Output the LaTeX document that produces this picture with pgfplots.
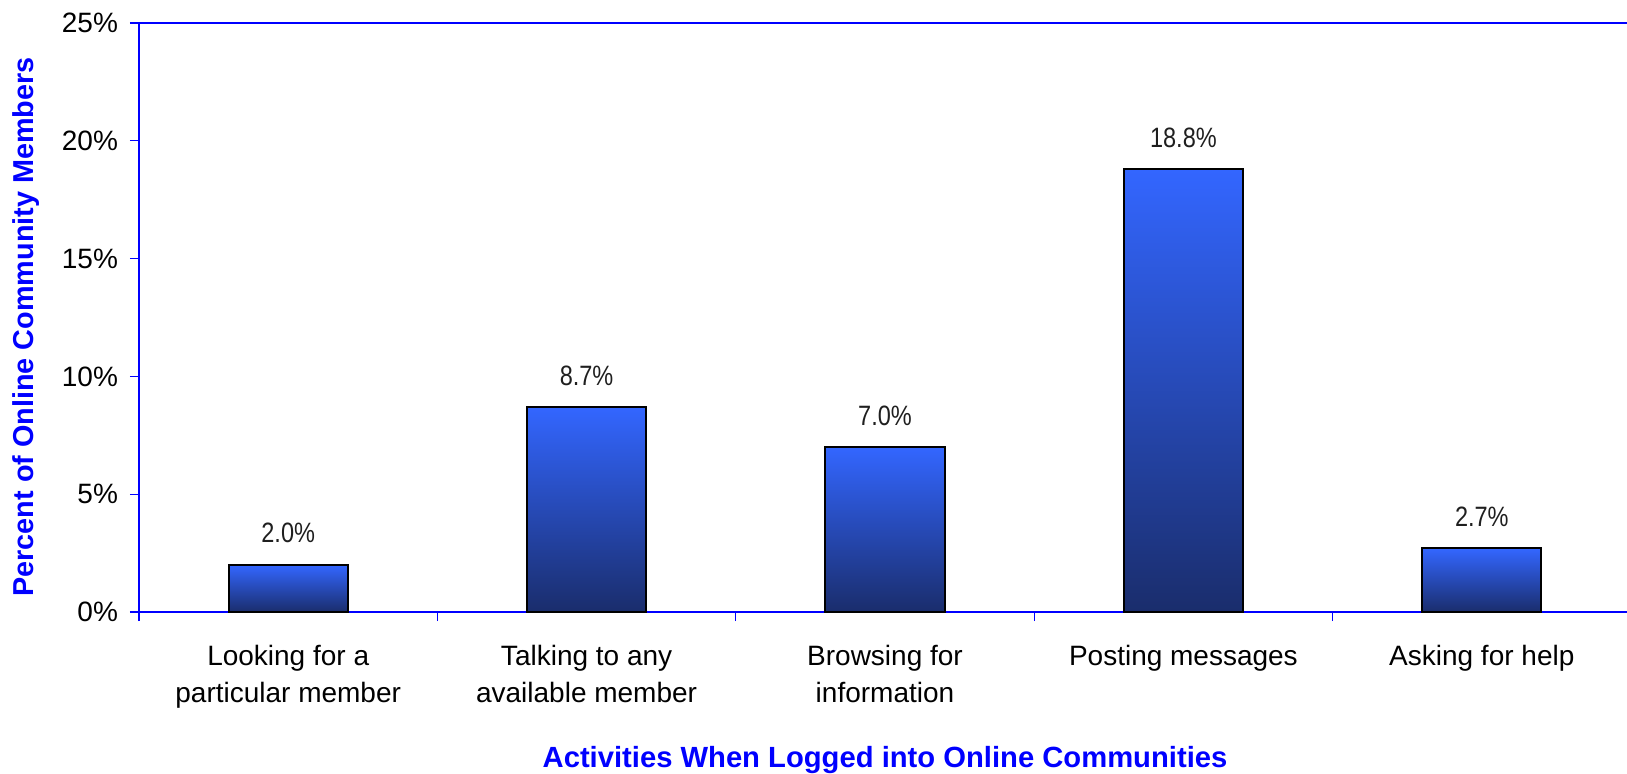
\documentclass[border=0pt]{standalone}
\usepackage{pgfplots}
\pgfplotsset{compat=1.18}
\usepackage{graphicx}
\usepackage{fontspec}
\setmainfont{Liberation Sans}

\definecolor{axisblue}{HTML}{0000FF}
\definecolor{bartop}{HTML}{3366FF}
\definecolor{barmid}{HTML}{2F5CE8}
\definecolor{barbot}{HTML}{1A2D6C}

% each bar is its own plot so that every bar gets its own gradient
\pgfplotsset{gradbar/.style={ybar, bar shift=0pt, bar width=0.4, draw=black, line width=1pt,
  top color=bartop, middle color=barmid, bottom color=barbot,
  nodes near coords={\scalebox{0.84}[1]{\pgfmathprintnumber[fixed,fixed zerofill,precision=1]{\pgfplotspointmeta}\%}},
  every node near coord/.append style={anchor=base, yshift=11pt,
    font=\fontsize{14}{17}\selectfont, text=black!88}}}

\begin{document}
\begin{tikzpicture}
% page size: 1px of the reference = 0.5pt
\path[use as bounding box] (-69.5pt,-80.5pt) rectangle (744pt,306pt);
\begin{axis}[
  at={(0,0)}, anchor=south west,
  scale only axis, width=746pt, height=294.5pt,
  /pgf/number format/assume math mode=true,
  xmin=-0.5, xmax=4.5,
  ymin=0, ymax=25,
  axis x line*=box, axis y line*=left,
  axis line style={axisblue, line width=1pt},
  tick align=outside,
  tick style={axisblue, line width=0.6pt},
  major tick length=4.5pt,
  minor tick length=4.5pt,
  ytick={0,5,10,15,20,25},
  yticklabel={\pgfmathprintnumber{\tick}\%},
  yticklabel style={font=\fontsize{14}{17}\selectfont, xshift=-2.5pt},
  xtick={0,1,2,3,4},
  xtick pos=left,
  major x tick style={draw=none},
  minor xtick={-0.5,0.5,1.5,2.5,3.5,4.5},
  xticklabels={{Looking for a\\particular member},{Talking to any\\available member},{Browsing for\\information},{Posting messages},{Asking for help}},
  xticklabel style={align=center, font=\fontsize{14}{18.5}\selectfont, yshift=-8.6pt},
  xlabel={Activities When Logged into Online Communities},
  xlabel style={at={(axis description cs:0.5,-0.251)}, anchor=center,
    font=\fontsize{14.6}{17}\selectfont\bfseries, text=axisblue},
  ylabel={Percent of Online Community Members},
  ylabel style={at={(axis description cs:-0.0757,0.484)}, anchor=center,
    font=\fontsize{14.4}{17}\selectfont\bfseries, text=axisblue},
]
\addplot[gradbar] coordinates {(0,2.0)};
\addplot[gradbar] coordinates {(1,8.7)};
\addplot[gradbar] coordinates {(2,7.0)};
\addplot[gradbar] coordinates {(3,18.8)};
\addplot[gradbar] coordinates {(4,2.7)};
\end{axis}
\end{tikzpicture}
\end{document}
